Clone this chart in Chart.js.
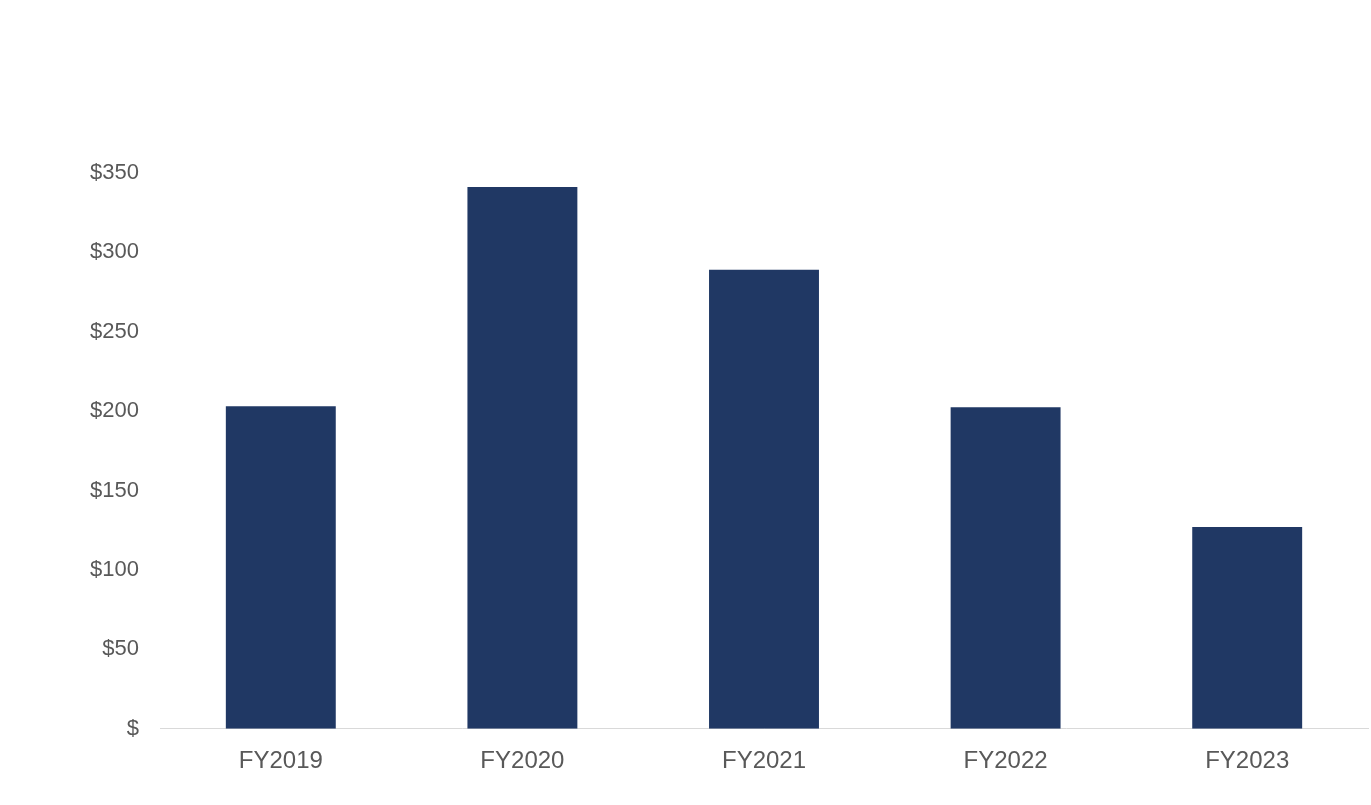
<!DOCTYPE html>
<html>
<head>
<meta charset="utf-8">
<script src="https://cdn.jsdelivr.net/npm/chart.js@4/dist/chart.umd.min.js"></script>
<style>
html,body{margin:0;padding:0;background:#fff;}
#wrap{width:1371px;height:805px;position:relative;}
</style>
</head>
<body>
<div id="wrap"><canvas id="c" width="1371" height="805"></canvas></div>
<script>
const categories = ["FY2019", "FY2020", "FY2021", "FY2022", "FY2023"];
const values = [203.1, 341.2, 289.1, 202.4, 127.1];
const yTicks = [0, 50, 100, 150, 200, 250, 300, 350];

new Chart(document.getElementById('c'), {
  type: 'bar',
  data: {
    labels: categories,
    datasets: [{
      data: values,
      backgroundColor: '#203864',
      categoryPercentage: 1,
      barPercentage: 0.455
    }]
  },
  options: {
    responsive: false,
    animation: false,
    devicePixelRatio: 1,
    layout: { padding: { top: 173, right: 3, bottom: 10.5, left: 0 } },
    plugins: { legend: { display: false }, tooltip: { enabled: false } },
    scales: {
      x: {
        grid: { display: false, drawTicks: false },
        border: { display: true, color: '#d9d9d9', width: 1 },
        ticks: { color: '#595959', font: { family: 'Liberation Sans', size: 24 }, padding: 18.5 }
      },
      y: {
        min: 0, max: 350,
        afterBuildTicks: (s) => { s.ticks = yTicks.map(v => ({ value: v })); },
        afterFit: (s) => { s.width = 160; },
        grid: { display: false, drawTicks: false },
        border: { display: false },
        ticks: {
          color: '#595959',
          font: { family: 'Liberation Sans', size: 22 },
          padding: 21,
          callback: (v) => v === 0 ? '$' : '$' + v
        }
      }
    }
  }
});
</script>
</body>
</html>
